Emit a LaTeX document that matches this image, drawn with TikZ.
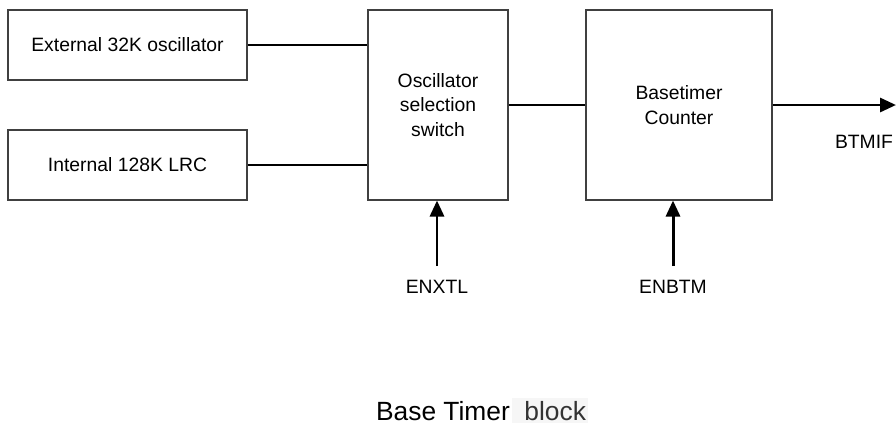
\documentclass[tikz,border=0pt]{standalone}
\usepackage{fontspec}
\setmainfont{Liberation Sans}
\usetikzlibrary{arrows.meta,positioning}

\begin{document}
\begin{tikzpicture}[x=0.02cm,y=-0.02cm,
  blk/.style={draw=black!75,line width=0.6pt,align=center,inner sep=0pt,font=\fontsize{11}{14}\selectfont},
  wire/.style={line width=1.4pt},
  sig/.style={line width=1.7pt,-{Triangle[length=0.32cm,width=0.28cm]}},
  lbl/.style={font=\fontsize{11}{13}\selectfont}]
\useasboundingbox (0,0) rectangle (896,427);
\node[blk,minimum width=4.78cm,minimum height=1.4cm](ext) at (127.5,45){External 32K oscillator};
\node[blk,minimum width=4.78cm,minimum height=1.4cm](int) at (127.5,165){Internal 128K LRC};
\node[blk,minimum width=2.8cm,minimum height=3.8cm](sw) at (438,105){Oscillator\\selection\\switch};
\node[blk,minimum width=3.72cm,minimum height=3.8cm](cnt) at (679,105){Basetimer\\Counter};
\coordinate (out) at (896,105);
\node[lbl](btmif) at (864,142){BTMIF};
\node[lbl](enxtl) at (437,287){ENXTL};
\node[lbl](enbtm) at (673,287){ENBTM};
\draw[wire](ext.east)--(ext.east-|sw.west);
\draw[wire](int.east)--(int.east-|sw.west);
\draw[wire](sw.east)--(cnt.west);
\draw[sig](cnt.east)--(out);
\draw[sig,shorten <=0.16cm](enxtl.north)--(enxtl.north|-sw.south);
\draw[sig,shorten <=0.16cm](enbtm.north)--(enbtm.north|-cnt.south);
% caption
\node[anchor=base,font=\fontsize{15}{18}\selectfont,inner sep=1pt](title) at (443,420){Base Timer};
\node[anchor=base,font=\fontsize{15}{18}\selectfont,fill=gray!7,text=black!80,text width=1.44cm,align=right,inner xsep=0.04cm,inner ysep=1pt,minimum height=0.5cm](blkword) at (550,420){block};
\end{tikzpicture}
\end{document}
